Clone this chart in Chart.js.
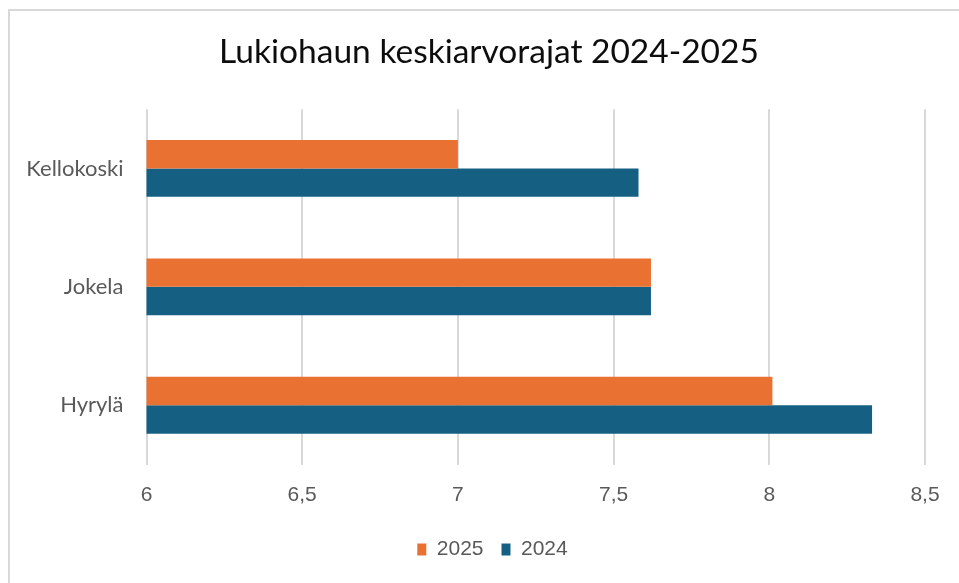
<!DOCTYPE html>
<html>
<head>
<meta charset="utf-8">
<script src="https://cdn.jsdelivr.net/npm/chart.js@4"></script>
<style>
  html, body { margin: 0; padding: 0; background: #fff; overflow: hidden; }
  #frame {
    position: absolute; left: 8px; top: 9px; width: 1000px; height: 700px;
    border-left: 2px solid #d9d9d9; border-top: 2px solid #d9d9d9;
  }
  #wrap { position: absolute; left: 0; top: 0; width: 959px; height: 583px; }
</style>
</head>
<body>
<div id="frame"></div>
<div id="wrap"><canvas id="chartKeskiarvo"></canvas></div>
<script>
const kategoriat = ["Kellokoski", "Jokela", "Hyrylä"];
const arvot2025 = [7.0, 7.62, 8.01];
const arvot2024 = [7.58, 7.62, 8.33];
const xTicks = [6, 6.5, 7, 7.5, 8, 8.5];

const numFont = { family: "'Liberation Sans', Arial, sans-serif", size: 21 };

const data = {
  labels: kategoriat,
  datasets: [
    {
      label: "2025",
      data: arvot2025,
      backgroundColor: "#E97132",
      categoryPercentage: 0.48,
      barPercentage: 1.0,
    },
    {
      label: "2024",
      data: arvot2024,
      backgroundColor: "#156082",
      categoryPercentage: 0.48,
      barPercentage: 1.0,
    },
  ],
};

// title and legend sit a bit right of the plot centre in the original
const boxShift = {
  id: "boxShift",
  afterLayout(chart) {
    if (chart.titleBlock) chart.titleBlock.left += 53;
    if (chart.legend) chart.legend.left += 60;
  },
};

const config = {
  type: "bar",
  data,
  plugins: [boxShift],
  options: {
    indexAxis: "y",
    responsive: true,
    maintainAspectRatio: false,
    animation: false,
    layout: { padding: { left: 0, right: 34, top: 12, bottom: 13 } },
    plugins: {
      tooltip: { enabled: false },
      title: {
        display: true,
        text: "Lukiohaun keskiarvorajat 2024-2025",
        color: "#0d0d0d",
        font: { family: "Lato, sans-serif", size: 33.5, weight: "normal" },
        padding: { top: 20, bottom: 37 },
      },
      legend: {
        position: "bottom",
        labels: {
          color: "#595959",
          font: numFont,
          boxWidth: 9,
          boxHeight: 12,
          padding: 18,
        },
      },
    },
    scales: {
      x: {
        min: xTicks[0],
        max: xTicks[xTicks.length - 1],
        afterBuildTicks: (scale) => {
          scale.ticks = xTicks.map((v) => ({ value: v }));
        },
        afterFit: (scale) => {
          scale.height = 56.5;
        },
        ticks: {
          color: "#595959",
          font: numFont,
          padding: 18,
          callback: (v) => String(v).replace(".", ","),
        },
        grid: { color: "#d9d9d9", lineWidth: 2, drawTicks: false },
        border: { display: false },
      },
      y: {
        afterFit: (scale) => {
          scale.width = 146.5;
        },
        ticks: {
          color: "#595959",
          font: { family: "Lato, sans-serif", size: 22 },
          padding: 15,
        },
        grid: { display: false },
        border: { display: false },
      },
    },
  },
};

const chartKeskiarvo = new Chart(document.getElementById("chartKeskiarvo"), config);
</script>
</body>
</html>
